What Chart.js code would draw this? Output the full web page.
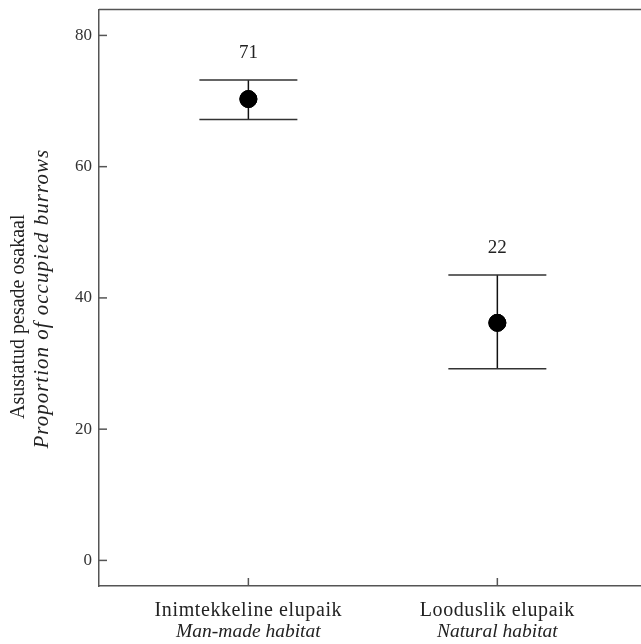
<!DOCTYPE html>
<html>
<head>
<meta charset="utf-8">
<script src="https://cdn.jsdelivr.net/npm/chart.js@4"></script>
<style>
  html, body { margin: 0; background: #fff; overflow: hidden; }
  /* 9px wider than the window: chart.js keeps a point-radius margin on the right */
  #wrap { width: 650px; height: 644px; position: relative; }
</style>
</head>
<body>
<div id="wrap"><canvas id="myChart"></canvas></div>
<script>
// data
const categories = ["Inimtekkeline elupaik", "Looduslik elupaik"];
const categoriesEn = ["Man-made habitat", "Natural habitat"];
const means = [70.3, 36.2];
const upper = [73.2, 43.5];
const lower = [67.2, 29.2];
const counts = ["71", "22"];
const yTicks = [0, 20, 40, 60, 80];

const serif = "'Liberation Serif', 'DejaVu Serif', serif";

// error bars, n labels, inward ticks, two-line labels
const extras = {
    id: 'extras',
    afterDatasetsDraw(chart) {
        const ctx = chart.ctx;
        const xs = chart.scales.x, ys = chart.scales.y;
        const area = chart.chartArea;
        ctx.save();

        // top line
        ctx.strokeStyle = '#555';
        ctx.lineWidth = 1.5;
        ctx.beginPath();
        ctx.moveTo(area.left, area.top);
        ctx.lineTo(chart.width, area.top);
        ctx.stroke();

        // inward y ticks
        yTicks.forEach(v => {
            const y = ys.getPixelForValue(v);
            ctx.beginPath();
            ctx.moveTo(area.left, y);
            ctx.lineTo(area.left + 8, y);
            ctx.stroke();
        });
        // inward x ticks
        categories.forEach((c, i) => {
            const x = xs.getPixelForValue(i + 1);
            ctx.beginPath();
            ctx.moveTo(x, area.bottom);
            ctx.lineTo(x, area.bottom - 8);
            ctx.stroke();
        });

        // error bars
        means.forEach((m, i) => {
            const x = xs.getPixelForValue(i + 1);
            const yt = ys.getPixelForValue(upper[i]);
            const yb = ys.getPixelForValue(lower[i]);
            ctx.strokeStyle = '#111';
            ctx.lineWidth = 1.5;
            ctx.beginPath();
            ctx.moveTo(x, yt);
            ctx.lineTo(x, yb);
            ctx.stroke();
            ctx.strokeStyle = '#333';
            ctx.beginPath();
            ctx.moveTo(x - 49, yt);
            ctx.lineTo(x + 49, yt);
            ctx.moveTo(x - 49, yb);
            ctx.lineTo(x + 49, yb);
            ctx.stroke();

            ctx.fillStyle = '#222';
            ctx.font = "19px " + serif;
            ctx.textAlign = 'center';
            ctx.textBaseline = 'middle';
            ctx.fillText(counts[i], x, yt - 27);
        });

        // x category labels
        ctx.fillStyle = '#222';
        ctx.textAlign = 'center';
        ctx.textBaseline = 'middle';
        categories.forEach((c, i) => {
            const x = xs.getPixelForValue(i + 1);
            ctx.font = "20px " + serif;
            ctx.letterSpacing = '0.6px';
            ctx.fillText(c, x, area.bottom + 25);
            ctx.letterSpacing = '0px';
            ctx.font = "italic 19.5px " + serif;
            ctx.fillText(categoriesEn[i], x, area.bottom + 46);
        });

        // y axis title
        const cy = (area.top + area.bottom) / 2;
        ctx.translate(19, cy);
        ctx.rotate(-Math.PI / 2);
        ctx.font = "20px " + serif;
        ctx.fillText("Asustatud pesade osakaal", -19, 0);
        ctx.font = "italic 21px " + serif;
        ctx.letterSpacing = '1px';
        ctx.fillText("Proportion of occupied burrows", -1, 23);
        ctx.letterSpacing = '0px';

        ctx.restore();

        // redraw points on top of bars
        chart.getDatasetMeta(0).data.forEach(p => p.draw(ctx, area));
    }
};

const canvas = document.getElementById('myChart');
const data = {
    datasets: [{
        label: 'Proportion',
        data: means.map((m, i) => ({ x: i + 1, y: m })),
        backgroundColor: '#000',
        borderColor: '#000',
        pointRadius: 8.5,
        pointHoverRadius: 8.5,
        showLine: false
    }]
};

new Chart(canvas, {
    type: 'scatter',
    data: data,
    options: {
        responsive: true,
        maintainAspectRatio: false,
        animation: false,
        layout: { padding: { top: 8, right: 0, left: 0, bottom: 0 } },
        plugins: {
            legend: { display: false },
            tooltip: { enabled: false }
        },
        scales: {
            x: {
                type: 'linear',
                min: 0.4,
                max: 2.575,
                grid: { display: false },
                border: { display: true, color: '#555', width: 1.5 },
                ticks: { display: false },
                afterFit(scale) {
                    scale.height = 58;
                    scale.paddingLeft = 0;
                    scale.paddingRight = 0;
                }
            },
            y: {
                min: -3.9,
                max: 83.95,
                afterBuildTicks(scale) { scale.ticks = yTicks.map(v => ({ value: v })); },
                grid: { display: false, drawTicks: false },
                border: { display: true, color: '#555', width: 1.5 },
                ticks: {
                    padding: 7,
                    color: '#333',
                    font: { family: serif, size: 17 }
                },
                afterFit(scale) {
                    scale.width = 99;
                    scale.paddingTop = 0;
                    scale.paddingBottom = 0;
                }
            }
        }
    },
    plugins: [extras]
});
</script>
</body>
</html>
